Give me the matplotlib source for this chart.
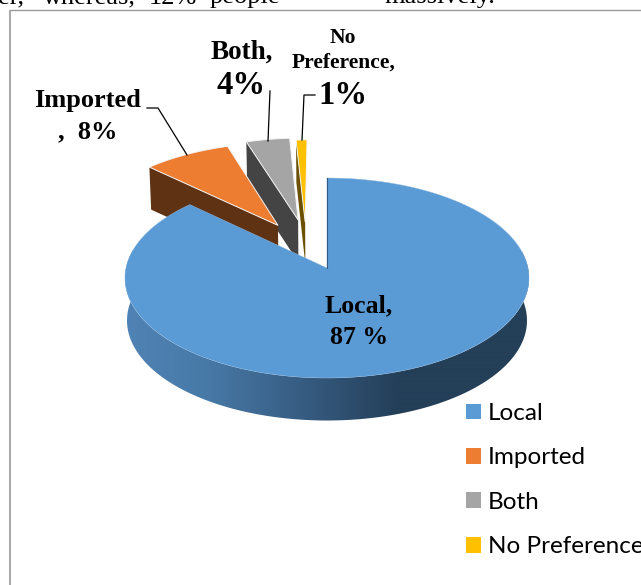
#!/usr/bin/env python3
import numpy as np
import matplotlib
matplotlib.use("Agg")
import matplotlib.pyplot as plt
from matplotlib.patches import Patch, Polygon

#Chart data
categories = ["Local", "Imported", "Both", "No Preference"]
shares = [87, 8, 4, 1]
share_labels = ["87 %", "8%", "4%", "1%"]

#Colours of the top faces, and the darker cut faces of the pulled out slices
top_colors = ["#5b9bd5", "#ed7d31", "#a5a5a5", "#ffc000"]
side_colors = ["#365b80", "#5f3214", "#444444", "#6b5000"]

#Pie placement in pixels, with a small perspective factor
cx, cy = 327, 268
rx, ry = 201, 99
persp = 0.1
depth = 42.5

#How far each slice is pulled out (in pie radii)
pull_x = [0, -0.255, -0.151, -0.114]
pull_y = [0, 0.45, 0.51, 0.487]


def project(theta, r=1.0, dx=0.0, dy=0.0, z=0.0):
    #theta in degrees, clockwise from the top of the pie
    t = np.radians(theta)
    x = r * np.sin(t) + dx
    y = r * np.cos(t) + dy
    w = 1 + persp * y
    return cx + rx * x * (1 - 0.01 * z) / w, cy - ry * y / w + depth * z


def top_face(start, end, dx=0.0, dy=0.0):
    th = np.linspace(start, end, 200)
    ox, oy = project(th, dx=dx, dy=dy)
    ax0, ay0 = project(0, r=0, dx=dx, dy=dy)
    return np.r_[ax0, ox], np.r_[ay0, oy]


fig = plt.figure(figsize=(6.41, 5.85), dpi=100)
ax = fig.add_axes([0, 0, 1, 1])

#Running text above the chart box, the line is justified so each word is placed
serif = "Liberation Serif"
for word, word_x in zip(["er,", "whereas,", "12%", "people", "massively."], [-2, 43, 149, 210, 384]):
    ax.text(word_x, 3.5, word, family=serif, fontsize=19, va="baseline", color="black")

#Chart box
ax.plot([10, 10], [585, 9.5], color="#aaaaaa", lw=1.5, solid_capstyle="butt")
ax.plot([10, 641], [9.5, 9.5], color="#9a9a9a", lw=1.0, solid_capstyle="butt")

#Slice angles come from the shares
edges = np.cumsum([0] + shares) * 3.6

#Pulled out slices, back to front
for i in [3, 2, 1]:
    start, end = edges[i], edges[i + 1]
    dx, dy = pull_x[i], pull_y[i]
    ox0, oy0 = project(start, dx=dx, dy=dy)
    ox1, oy1 = project(start, dx=dx, dy=dy, z=1)
    ax0, ay0 = project(0, r=0, dx=dx, dy=dy)
    ax1, ay1 = project(0, r=0, dx=dx, dy=dy, z=1)
    ax.fill([ax0, ox0, ox1, ax1], [ay0, oy0, oy1, ay1], color=side_colors[i], lw=0, zorder=2 + (3 - i))
    fx, fy = top_face(start, end, dx, dy)
    ax.fill(fx, fy, facecolor=top_colors[i], edgecolor="#f4f4f4", lw=0.7, zorder=2 + (3 - i))

#Outer wall of the big slice, shaded left to right with a clipped gradient
wall_x = [127, 203, 307, 397, 530]
wall_r = [80, 72, 54, 36, 36]
wall_g = [131, 122, 91, 63, 63]
wall_b = [181, 168, 128, 88, 88]
grad_x = np.arange(120, 536)
grad = np.stack([np.interp(grad_x, wall_x, wall_r),
                 np.interp(grad_x, wall_x, wall_g),
                 np.interp(grad_x, wall_x, wall_b)], axis=-1)[None, :, :] / 255
img = ax.imshow(grad, extent=(120, 536, 430, 250), aspect="auto", zorder=6, interpolation="bilinear")
th = np.linspace(80, 285, 400)
tx, ty = project(th)
bx, by = project(th, z=1)
wall = Polygon(np.c_[np.r_[tx, bx[::-1]], np.r_[ty, by[::-1]]], closed=True, transform=ax.transData,
               facecolor="none", edgecolor="none")
ax.add_patch(wall)
img.set_clip_path(wall)

#Top of the big slice
fx, fy = top_face(edges[0], edges[1])
ax.fill(fx, fy, facecolor=top_colors[0], edgecolor="#8fb9e0", lw=0.3, zorder=7)
ex, ey = project(0)
ax.plot([cx, ex], [cy, ey], color=side_colors[0], lw=0.8, zorder=8)

#Leader lines
line_kw = dict(color="black", lw=0.9, zorder=9)
ax.plot([147, 158, 187], [108, 108, 155], **line_kw)
ax.plot([270, 268], [91, 141], **line_kw)
ax.plot([315, 304, 302], [95, 95, 140], **line_kw)

#Data labels
bold = dict(family=serif, weight="bold", ha="center", va="center", color="black", zorder=10)
ax.text(359, 306, categories[0] + ",", fontsize=18.5, **bold)
ax.text(359, 337, share_labels[0], fontsize=18.5, **bold)
ax.text(88, 101, categories[1], fontsize=19, **bold)
ax.text(88, 132, ",  " + share_labels[1], fontsize=19, **bold)
ax.text(242, 52, categories[2] + ",", fontsize=19.5, **bold)
ax.text(241, 86, share_labels[2], fontsize=23.5, **bold)
ax.text(343, 38, "No", fontsize=15.5, **bold)
ax.text(343.5, 63, "Preference,", fontsize=15.5, **bold)
ax.text(342.5, 96, share_labels[3], fontsize=23.5, **bold)

#Legend
handles = [Patch(facecolor=c, edgecolor="none") for c in top_colors]
leg = ax.legend(handles, categories, loc="upper left", bbox_to_anchor=(466, 403),
                bbox_transform=ax.transData, frameon=False,
                prop={"family": "Lato", "size": 17.5}, handlelength=0.62, handleheight=0.62,
                handletextpad=0.28, labelspacing=0.965, borderpad=0, borderaxespad=0)
leg.set_zorder(10)

ax.set_xlim(0, 641)
ax.set_ylim(585, 0)
ax.axis("off")

fig.savefig("out.png", dpi=100)
